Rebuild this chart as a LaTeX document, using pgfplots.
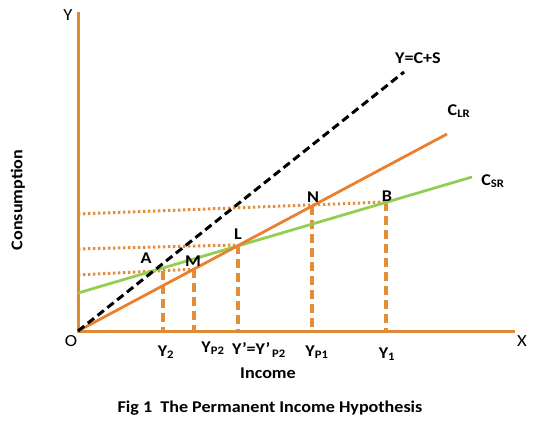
\documentclass[border=0pt]{standalone}
\usepackage{pgfplots}
\pgfplotsset{compat=1.18}
\usepackage{fontspec}
\setmainfont{Carlito}[FakeStretch=1.1]
\definecolor{axisor}{RGB}{222,138,52}
\definecolor{clr}{RGB}{234,128,45}
\definecolor{csr}{RGB}{146,206,82}
\definecolor{guide}{RGB}{226,142,56}
\begin{document}
\begin{tikzpicture}[font=\fontsize{16.5}{19}\selectfont\bfseries]
\begin{axis}[
    hide axis, scale only axis, clip=false,
    x=1bp, y=1bp,
    xmin=-78, xmax=461, ymin=-98, ymax=331,
]
\path (rel axis cs:0,0) rectangle (rel axis cs:1,1);
% axes
\addplot[axisor, line width=3bp] coordinates {(0,319) (0,0) (437,0)};
% dotted guides to the consumption axis
\addplot[guide, line width=3bp, dash pattern=on 2.4bp off 2.6bp] coordinates {(0,56) (117,62)};
\addplot[guide, line width=3bp, dash pattern=on 2.4bp off 2.6bp] coordinates {(0,82) (159,86)};
\addplot[guide, line width=3bp, dash pattern=on 2.4bp off 2.6bp] coordinates {(0,117) (308,129)};
% dashed drops to the income axis
\addplot[guide, line width=3.2bp, dash pattern=on 9bp off 5bp] coordinates {(85,60) (85,0)};
\addplot[guide, line width=3.2bp, dash pattern=on 9bp off 5bp] coordinates {(116,62) (116,0)};
\addplot[guide, line width=3.2bp, dash pattern=on 9bp off 5bp] coordinates {(160,86) (160,0)};
\addplot[guide, line width=3.2bp, dash pattern=on 9bp off 5bp] coordinates {(234,125) (234,0)};
\addplot[guide, line width=3.2bp, dash pattern=on 9bp off 5bp] coordinates {(308,129) (308,0)};
% consumption functions
\addplot[csr, line width=2.8bp] coordinates {(0,38) (394,154)};
\addplot[clr, line width=2.8bp] coordinates {(0,0) (369,197)};
\addplot[black, line width=3bp, dash pattern=on 8bp off 4.5bp] coordinates {(0,0) (326,259)};
% labels
\node[font=\fontsize{17}{19}\selectfont] at (axis cs:-10,316) {Y};
\node[font=\fontsize{17}{19}\selectfont] at (axis cs:444,-10) {X};
\node[font=\fontsize{17}{19}\selectfont] at (axis cs:-7,-10) {O};
\node[rotate=90] at (axis cs:-60,131) {Consumption};
\node at (axis cs:88,-21) {Y\textsubscript{2}};
\node at (axis cs:135,-17) {Y\textsubscript{P2}};
\node at (axis cs:181,-19) {Y\kern0.5pt{\textquoteright}=Y\kern0.5pt{\textquoteright}\textsubscript{\,P2}};
\node at (axis cs:239,-21) {Y\textsubscript{P1}};
\node at (axis cs:309,-23) {Y\textsubscript{1}};
\node at (axis cs:190,-42) {Income};
\node at (axis cs:192,-77) {Fig 1\ \ The Permanent Income Hypothesis};
\node at (axis cs:340,273) {Y=C+S};
\node at (axis cs:381,220) {C\textsubscript{LR}};
\node at (axis cs:415,150) {C\textsubscript{SR}};
\node at (axis cs:235,134) {N};
\node at (axis cs:309,135) {B};
\node at (axis cs:160,97) {L};
\node at (axis cs:115,70) {M};
\node at (axis cs:68,73) {A};
\end{axis}
\end{tikzpicture}
\end{document}
